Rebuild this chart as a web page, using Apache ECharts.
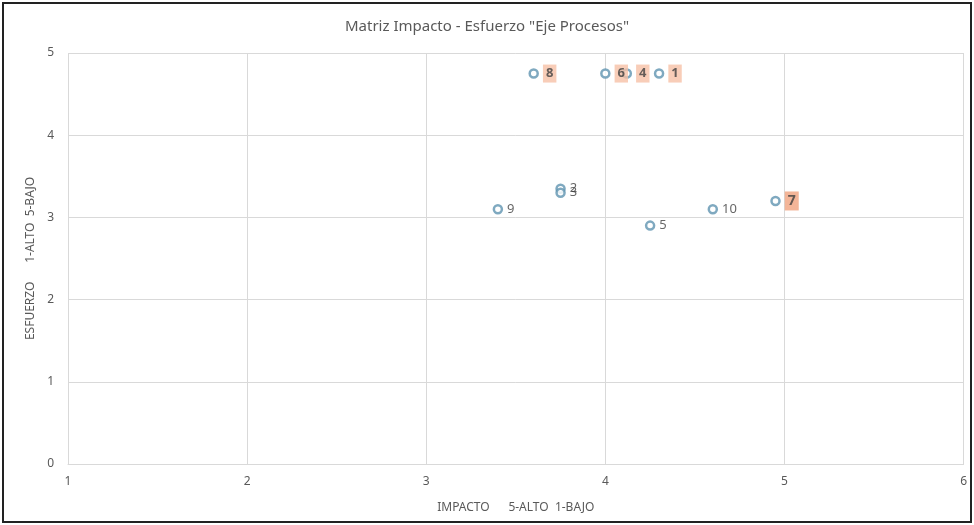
<!DOCTYPE html>
<html>
<head>
<meta charset="utf-8">
<script src="https://cdn.jsdelivr.net/npm/echarts@6/dist/echarts.min.js"></script>
<style>
  html, body { margin: 0; padding: 0; background: #fff; }
  #chart { position: absolute; left: 2px; top: 2px; width: 966px; height: 517px; border: 2px solid #222; }
</style>
</head>
<body>
<div id="chart"></div>
<script>
// item numbers, impacto (x), esfuerzo (y)
const ids      = ['1', '2', '3', '4', '5', '6', '7', '8', '9', '10'];
const impacto  = [4.3, 3.75, 3.75, 4.12, 4.25, 4.0, 4.95, 3.6, 3.4, 4.6];
const esfuerzo = [4.75, 3.35, 3.3, 4.75, 2.9, 4.75, 3.2, 4.75, 3.1, 3.1];
// labels with highlight box
const highlighted = { '1': '#f6c0a6', '4': '#f6c0a6', '6': '#f6c0a6', '8': '#f6c0a6', '7': '#f0a37e' };

const chart = echarts.init(document.getElementById('chart'));

const points = ids.map((id, i) => {
    const item = { value: [impacto[i], esfuerzo[i]], name: id };
    if (highlighted[id]) {
        item.label = {
            backgroundColor: highlighted[id],
            fontWeight: 'bold',
            color: '#404040',
            padding: [3, 3, 2, 3],
            fontSize: id === '7' ? 14 : 13
        };
    }
    return item;
});

chart.setOption({
    textStyle: { fontFamily: 'Noto Sans' },
    title: {
        text: 'Matriz Impacto - Esfuerzo "Eje Procesos"',
        left: 'center',
        top: 10,
        textStyle: { fontSize: 15, fontWeight: 'normal', color: '#595959' }
    },
    grid: { left: 64, right: 4, top: 49, bottom: 57 },
    xAxis: {
        type: 'value',
        min: 1, max: 6, interval: 1,
        name: 'IMPACTO      5-ALTO  1-BAJO',
        nameLocation: 'middle',
        nameGap: 38,
        nameTextStyle: { fontSize: 12, color: '#595959' },
        axisLine: { show: true, lineStyle: { color: '#d9d9d9' } },
        axisTick: { show: false },
        axisLabel: { fontSize: 12, color: '#595959', margin: 12 },
        splitLine: { show: true, lineStyle: { color: '#d9d9d9' } }
    },
    yAxis: {
        type: 'value',
        min: 0, max: 5, interval: 1,
        name: 'ESFUERZO      1-ALTO  5-BAJO',
        nameLocation: 'middle',
        nameGap: 29,
        nameTextStyle: { fontSize: 12, color: '#595959' },
        axisLine: { show: false },
        axisTick: { show: false },
        axisLabel: { fontSize: 12, color: '#595959', margin: 14 },
        splitLine: { show: true, lineStyle: { color: '#d9d9d9' } }
    },
    series: [{
        type: 'scatter',
        symbol: 'circle',
        symbolSize: 8,
        itemStyle: { color: '#ffffff', borderColor: '#5f93b0', borderWidth: 2.5 },
        label: {
            show: true,
            position: 'right',
            distance: 4,
            formatter: p => p.name,
            fontSize: 13,
            color: '#404040'
        },
        labelLayout: { hideOverlap: false },
        data: points
    }]
});
</script>
</body>
</html>
